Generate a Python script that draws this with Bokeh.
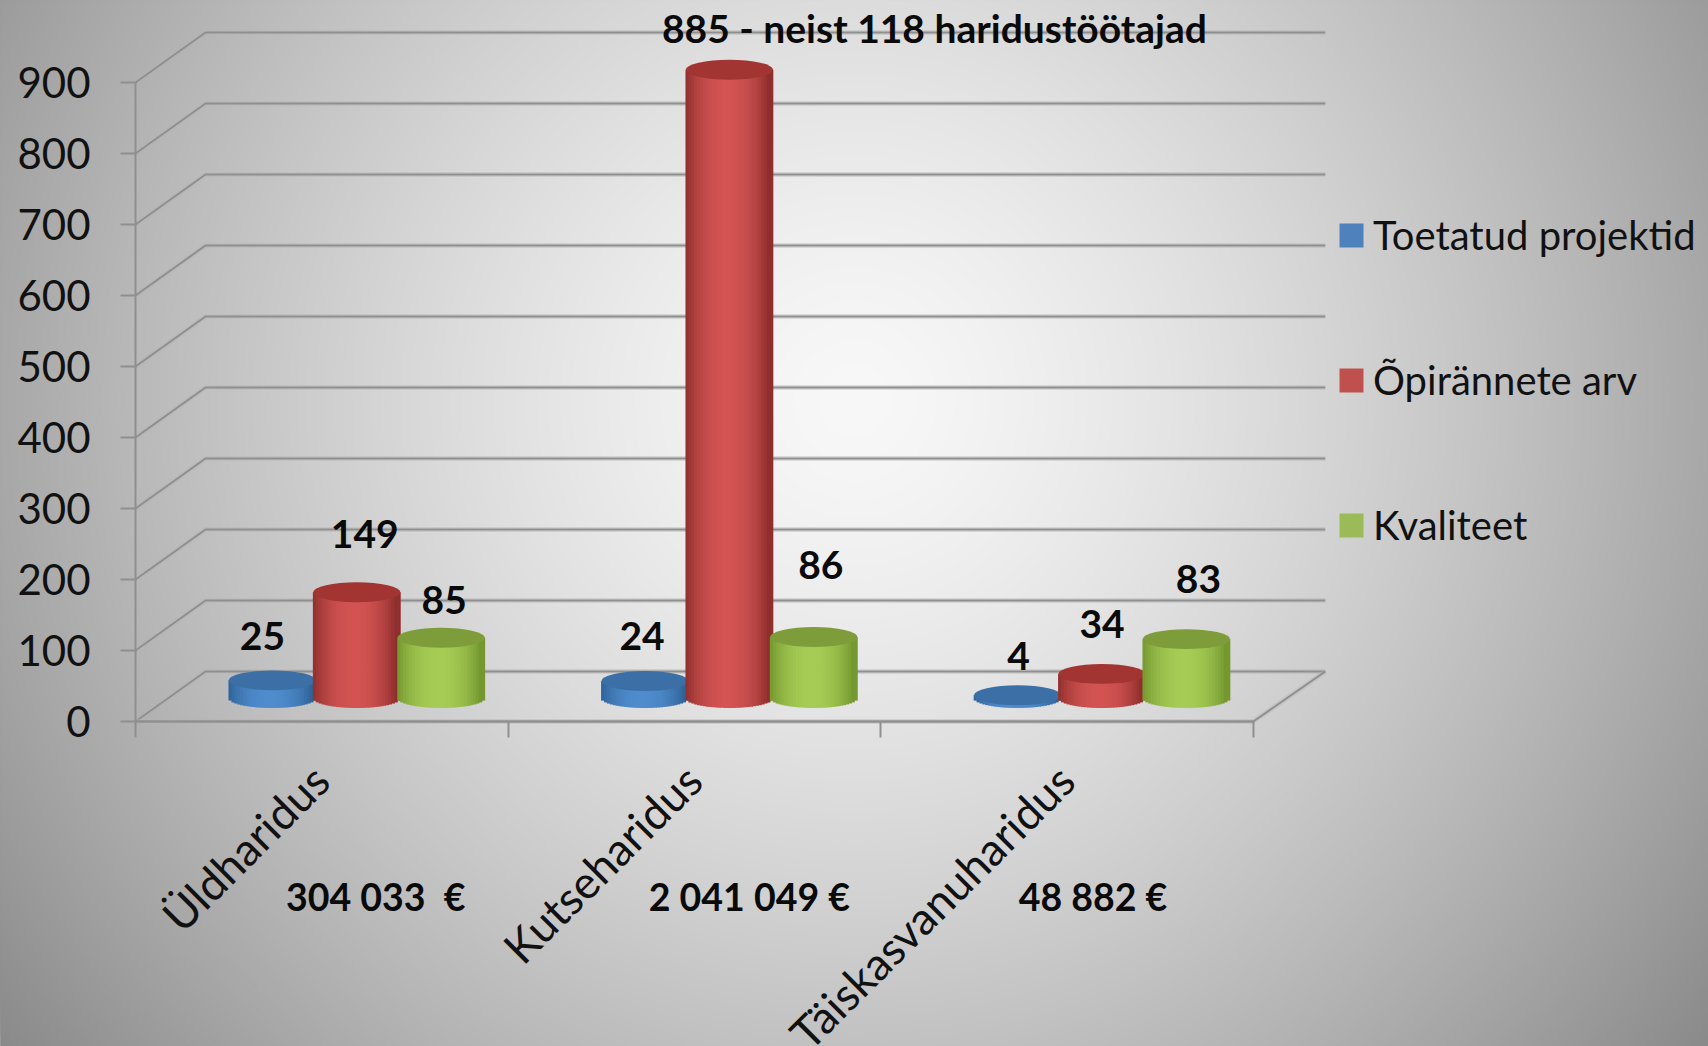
from bokeh.plotting import figure
from bokeh.models import LinearAxis, FixedTicker, Range1d, Legend, LegendItem
from bokeh.core.properties import value
from bokeh.embed import file_html
from bokeh.resources import INLINE
import numpy as np

# ---- data ----
categories = ["Üldharidus", "Kutseharidus", "Täiskasvanuharidus"]
amounts = ["304 033\u00a0 €", "2 041 049 €", "48 882 €"]
series_names = ["Toetatud projektid", "Õpirännete arv", "Kvaliteet"]
toetatud = [25, 24, 4]
opiranded = [149, 885, 34]
kvaliteet = [85, 86, 83]
value_labels = [["25", "24", "4"],
                ["149", "885 - neist 118 haridustöötajad", "34"],
                ["85", "86", "83"]]
y_ticks = list(range(0, 1000, 100))

# ---- layout (reference px -> plot units) ----
W, H = 1708, 1046
PX_X = 372.6      # px per category
PX_Y = 0.71       # px per value unit
X0_PX, Y0_PX = 135, 721   # axis origin inside the figure
x_start = -X0_PX / PX_X
x_end = (W - X0_PX) / PX_X
y_top = Y0_PX / PX_Y
y_bottom = -(H - Y0_PX) / PX_Y
DEPTH_X, DEPTH_Y = 70 / PX_X, 50 / PX_Y
WALL_END = 3 + DEPTH_X + 2 / PX_X
LIGHT = "#8f8f8f"
FONT = "Lato"

p = figure(width=W, height=H, output_backend="svg", toolbar_location=None,
           x_range=Range1d(x_start, x_end), y_range=Range1d(y_bottom, y_top),
           min_border=0, min_border_left=0, min_border_right=0,
           min_border_top=0, min_border_bottom=0, outline_line_color=None,
           x_axis_type=None, y_axis_type=None)
p.xgrid.visible = False
p.ygrid.visible = False
p.background_fill_color = "#888888"
p.border_fill_color = "#888888"

# radial backdrop, drawn as concentric ellipses
cx_bg = (854 - X0_PX) / PX_X
cy_bg = (Y0_PX - 400) / PX_Y
for level in range(0x89, 0xf9):
    r = ((0xf8 - level) / 0x50) ** (1 / 1.4)
    p.ellipse(x=[cx_bg], y=[cy_bg],
              width=[2 * r * 854 / PX_X], height=[2 * r * 850 / PX_Y],
              fill_color=f"#{level:02x}{level:02x}{level:02x}", line_color=None)

# back wall and floor lines
for v in y_ticks:
    xs = [0, DEPTH_X, WALL_END]
    ys = [v, v + DEPTH_Y, v + DEPTH_Y]
    p.line(xs, ys, line_color="#b5b5b5", line_width=5, line_alpha=0.4)
    p.line(xs, ys, line_color=LIGHT, line_width=2)
p.line([0, 3, WALL_END], [0, 0, DEPTH_Y], line_color="#b5b5b5", line_width=5, line_alpha=0.4)
p.line([0, 3, WALL_END], [0, 0, DEPTH_Y], line_color=LIGHT, line_width=2)

# axes
yaxis = LinearAxis(ticker=FixedTicker(ticks=y_ticks), fixed_location=0, bounds=(0, 900),
                   axis_line_color=LIGHT, axis_line_width=2,
                   major_tick_line_color=LIGHT, major_tick_line_width=2,
                   major_tick_in=0, major_tick_out=15, minor_tick_line_color=None,
                   major_label_standoff=30,
                   major_label_text_font=FONT, major_label_text_font_size="42px",
                   major_label_text_color="#111111")
p.add_layout(yaxis, "left")
xaxis = LinearAxis(ticker=FixedTicker(ticks=[0, 1, 2, 3]), fixed_location=0, bounds=(0, 3),
                   axis_line_color=LIGHT, axis_line_width=2,
                   major_tick_line_color=LIGHT, major_tick_line_width=2,
                   major_tick_in=0, major_tick_out=16, minor_tick_line_color=None,
                   major_label_overrides={0: "", 1: "", 2: "", 3: ""})
p.add_layout(xaxis, "below")

# cylinders
BAR_W = 80 / PX_X * 1.0893
STEP = 84.4 / PX_X
BASE = 33
ELL_H = 28
shades = [("#2f6399", "#4f8ccd", "#3c6fa6"),
          ("#8f2f2d", "#d25352", "#a23431"),
          ("#74982f", "#a6cc55", "#7e9d3a")]
series = [toetatud, opiranded, kvaliteet]
N = 30
us = (np.arange(N) + 0.5) / N * 2 - 1
def mix(a, b, t):
    ca = [int(a[i:i + 2], 16) for i in (1, 3, 5)]
    cb = [int(b[i:i + 2], 16) for i in (1, 3, 5)]
    return "#" + "".join(f"{int(round(x + (y - x) * t)):02x}" for x, y in zip(ca, cb))

label_offsets = [[(-10, -44), (-3, -45), (1, -39)],
                 [(8, -58), (205, -42), (0, -50)],
                 [(3, -38), (7, -72), (12, -60)]]
for si, vals in enumerate(series):
    edge, mid, top = shades[si]
    cols = [mix(edge, mid, (1 - min(abs(u + 0.05) / 0.95, 1) ** 2.2)) for u in us]
    for ci, v in enumerate(vals):
        cx = ci + 0.5 + DEPTH_X / 2 + (si - 1) * STEP
        for u, col in zip(us, cols):
            xs = cx + u * BAR_W / 2
            bottom = BASE - ELL_H / 2 * np.sqrt(max(1 - u * u, 0))
            p.vbar(x=[xs], width=BAR_W / N * 1.25, bottom=[bottom], top=[BASE + v],
                   fill_color=col, line_color=None)
        p.ellipse(x=[cx], y=[BASE + v], width=[BAR_W], height=[ELL_H],
                  fill_color=top, line_color=None)

# value labels, anchored to the cylinder tops
for si, vals in enumerate(series):
    for ci, v in enumerate(vals):
        cx = ci + 0.5 + DEPTH_X / 2 + (si - 1) * STEP
        dx, dy = label_offsets[si][ci]
        p.text(x=[cx], y=[BASE + v], text=[value_labels[si][ci]],
               x_offset=[dx], y_offset=[dy],
               text_font=value(FONT), text_font_style="bold", text_font_size="39px",
               text_color="#0a0a0a", text_align="center", text_baseline="middle")

# category labels and funding amounts
for i, c in enumerate(categories):
    p.text(x=[i + 0.5], y=[0], text=[c], x_offset=[-1], y_offset=[51],
           angle=np.pi / 4, text_font=value(FONT), text_font_size="45px",
           text_color="#111111", text_align="right", text_baseline="middle")
amount_dx = [54, 55, 26]
for i, a in enumerate(amounts):
    p.text(x=[i + 0.5], y=[0], text=[a], x_offset=[amount_dx[i]], y_offset=[175],
           text_font=value(FONT), text_font_style="bold", text_font_size="37.5px",
           text_color="#0a0a0a", text_align="center", text_baseline="middle")

# legend
legend_cols = ["#4f81bd", "#c0504d", "#9bbb59"]
items = []
for name, col in zip(series_names, legend_cols):
    r = p.rect(x=[np.nan], y=[np.nan], width=1, height=1, fill_color=col, line_color=None)
    items.append(LegendItem(label=name, renderers=[r]))
legend = Legend(items=items, location=(1336, 497), orientation="vertical",
                background_fill_alpha=0, border_line_color=None,
                glyph_width=30, glyph_height=30, label_text_font=FONT,
                label_text_font_size="40px", label_text_color="#111111",
                spacing=97, margin=0, padding=0, label_standoff=7)
p.add_layout(legend, "center")

open("out.html", "w").write(file_html(p, INLINE))
